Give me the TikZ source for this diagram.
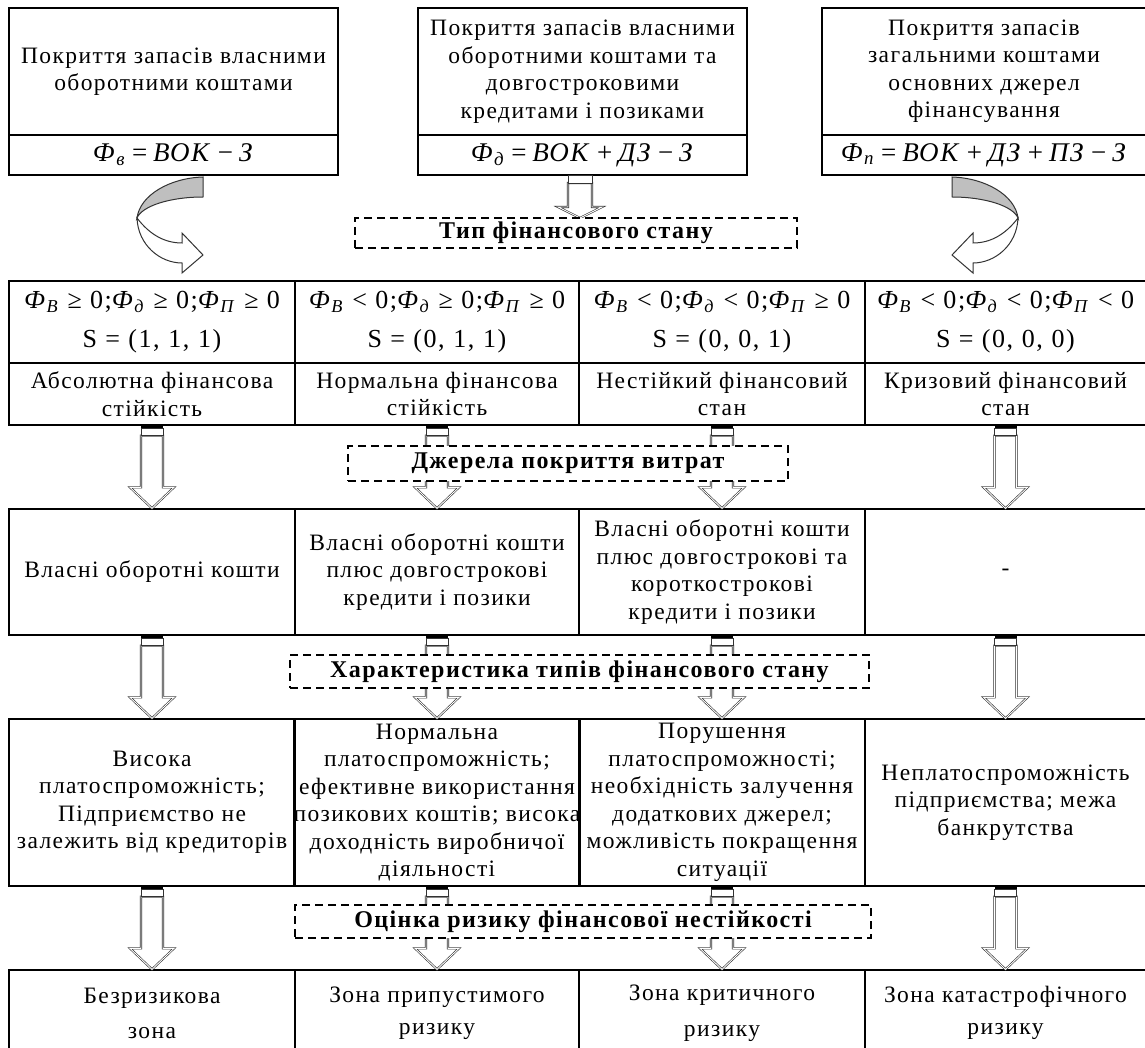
\documentclass[tikz,border=0pt]{standalone}
\usepackage{fontspec}
\setmainfont{Liberation Serif}[LetterSpace=6]
\usetikzlibrary{calc}
\newcommand\Fi[1]{\textit{Ф}\textsubscript{\textit{#1}}}
\newcommand\op[1]{\hspace{0.22em}#1\hspace{0.22em}}
\newcommand\rop[1]{\hspace{0.32em}#1\hspace{0.32em}}
\newcommand\cellnode[7][]{% [opts] name x1 y1 x2 y2 text
  \node[cell,#1,minimum width={(#5-#3)*1pt},minimum height={(#6-#4)*1pt}] (#2) at ({(#3+#5)/2},{(#4+#6)/2}) {#7};}
\newcommand\blkarrow[3][21]{%
  \draw[blkarr] let \p1=(#2), \p2=(#3) in
   (\x1-11pt,\y1-10pt) -- (\x1-11pt,\y2+#1pt) -- (\x1-22pt,\y2+#1pt) -- (\x1,\y2)
   -- (\x1+22pt,\y2+#1pt) -- (\x1+11pt,\y2+#1pt) -- (\x1+11pt,\y1-10pt) -- cycle;
  \fill let \p1=(#2) in (\x1-11pt,\y1) rectangle (\x1+11pt,\y1-3pt);
  \draw[capline] let \p1=(#2) in (\x1-11pt,\y1-3pt) rectangle (\x1+11pt,\y1-10pt);}
\begin{document}
\begin{tikzpicture}[x=1pt,y=-1pt,
  cell/.style={draw=black,line width=1.3pt,inner sep=0pt,align=center,
    font=\fontsize{23.5}{27.5}\selectfont},
  fcell/.style={font=\fontsize{27}{30}\selectfont},
  gcell/.style={font=\fontsize{26}{39}\selectfont},
  lbl/.style={draw=black,line width=1.1pt,dash pattern=on 8pt off 5pt,fill=white,
    inner sep=0pt,font=\fontsize{24}{26}\selectfont\bfseries},
  blkarr/.style={draw=black!80,fill=white,line width=0.6pt,double=white,double distance=0.9pt},
  capline/.style={draw=black!80,line width=0.9pt,fill=white},
  ribbon/.style={draw=black!80,line width=1pt}]
\useasboundingbox (0,0) rectangle (1145,1048);
\fill[white] (0,0) rectangle (1145,1048);
\clip (0,0) rectangle (1145,1048);

% top boxes
\cellnode{b1t}{9}{8}{338}{135}{Покриття запасів власними\\оборотними коштами}
\cellnode[fcell]{b1f}{9}{135}{338}{175}{\Fi{в}\op{=}\textit{ВОК}\op{−}\textit{З}}
\cellnode{b2t}{418}{8}{747}{135}{Покриття запасів власними\\оборотними коштами та\\довгостроковими\\кредитами і позиками}
\cellnode[fcell]{b2f}{418}{135}{747}{175}{\Fi{д}\op{=}\textit{ВОК}\op{+}\textit{ДЗ}\op{−}\textit{З}}
\cellnode{b3t}{822}{8}{1146}{135}{Покриття запасів\\загальними коштами\\основних джерел\\фінансування}
\cellnode[fcell]{b3f}{822}{135}{1146}{175}{\Fi{п}\op{=}\textit{ВОК}\op{+}\textit{ДЗ}\op{+}\textit{ПЗ}\op{−}\textit{З}}

% row 2
\cellnode[gcell]{r2a1}{9}{281}{295}{363}{\Fi{В}\rop{≥}0;\Fi{д}\rop{≥}0;\Fi{П}\rop{≥}0\\S\rop{=}(1,\,\,1,\,\,1)}
\cellnode[gcell]{r2a2}{295}{281}{579}{363}{\Fi{В}\rop{<}0;\Fi{д}\rop{≥}0;\Fi{П}\rop{≥}0\\S\rop{=}(0,\,\,1,\,\,1)}
\cellnode[gcell]{r2a3}{579}{281}{865}{363}{\Fi{В}\rop{<}0;\Fi{д}\rop{<}0;\Fi{П}\rop{≥}0\\S\rop{=}(0,\,\,0,\,\,1)}
\cellnode[gcell]{r2a4}{865}{281}{1146}{363}{\Fi{В}\rop{<}0;\Fi{д}\rop{<}0;\Fi{П}\rop{<}0\\S\rop{=}(0,\,\,0,\,\,0)}
\cellnode{r2b1}{9}{363}{295}{425}{Абсолютна фінансова\\стійкість}
\cellnode{r2b2}{295}{363}{579}{425}{Нормальна фінансова\\стійкість}
\cellnode{r2b3}{579}{363}{865}{425}{Нестійкий фінансовий\\стан}
\cellnode{r2b4}{865}{363}{1146}{425}{Кризовий фінансовий\\стан}

% row 3
\cellnode{r31}{9}{509}{295}{635}{Власні оборотні кошти}
\cellnode{r32}{295}{509}{579}{635}{Власні оборотні кошти\\плюс довгострокові\\кредити і позики}
\cellnode{r33}{579}{509}{865}{635}{Власні оборотні кошти\\плюс довгострокові та\\короткострокові\\кредити і позики}
\cellnode{r34}{865}{509}{1146}{635}{-}

% row 4
\cellnode{r41}{9}{719}{295}{886}{Висока\\платоспроможність;\\Підприємство не\\залежить від кредиторів}
\cellnode{r42}{295}{719}{579}{886}{Нормальна\\платоспроможність;\\ефективне використання\\позикових коштів; висока\\доходність виробничої\\діяльності}
\cellnode{r43}{579}{719}{865}{886}{Порушення\\платоспроможності;\\необхідність залучення\\додаткових джерел;\\можливість покращення\\ситуації}
\cellnode{r44}{865}{719}{1146}{886}{Неплатоспроможність\\підприємства; межа\\банкрутства}

% row 5
\cellnode[font=\fontsize{23.5}{35}\selectfont]{r51}{9}{970}{295}{1056}{Безризикова\\зона}
\cellnode[font=\fontsize{23.5}{32}\selectfont]{r52}{295}{970}{579}{1056}{Зона припустимого\\ризику}
\cellnode[font=\fontsize{23.5}{36}\selectfont]{r53}{579}{970}{865}{1056}{Зона критичного\\ризику}
\cellnode[font=\fontsize{23.5}{32}\selectfont]{r54}{865}{970}{1146}{1056}{Зона катастрофічного\\ризику}

% block arrows
\coordinate (d1top) at (580,218);
\draw[blkarr] (568,183) -- (568,207) -- (558,207) -- (d1top) -- (602,207) -- (592,207) -- (592,183) -- cycle;
\draw[capline] (568,175) rectangle (592,183);
\foreach \i in {1,2,3,4}{
  \blkarrow{r2b\i.south}{r3\i.north}
  \blkarrow{r3\i.south}{r4\i.north}
  \blkarrow{r4\i.south}{r5\i.north}
}

% curved arrows
\filldraw[ribbon,fill=black!25] (203,177) .. controls (170,178) and (140,195) .. (137,218)
  .. controls (142,206) and (170,197) .. (203,197) -- cycle;
\filldraw[ribbon,fill=white] (137,218) .. controls (150,235) and (165,243) .. (182,243)
  -- (182,233) -- (203,255) -- (182,273) -- (182,263)
  .. controls (160,263) and (138,245) .. (137,218) -- cycle;
\filldraw[ribbon,fill=black!25] (952,177) .. controls (985,178) and (1015,195) .. (1018,218)
  .. controls (1013,206) and (985,197) .. (952,197) -- cycle;
\filldraw[ribbon,fill=white] (1018,218) .. controls (1005,235) and (990,243) .. (973,243)
  -- (973,233) -- (952,255) -- (973,273) -- (973,263)
  .. controls (995,263) and (1017,245) .. (1018,218) -- cycle;

% dashed label boxes
\node[lbl,minimum width=442pt,minimum height=30pt] (d1) at (576,233) {Тип фінансового стану};
\node[lbl,minimum width=440pt,minimum height=35pt] (d2) at (568,463.5) {Джерела покриття витрат};
\node[lbl,minimum width=579pt,minimum height=33pt] (d3) at (579.5,671.5) {Характеристика типів фінансового стану};
\node[lbl,minimum width=576pt,minimum height=33pt] (d4) at (583,921.5) {Оцінка ризику фінансової нестійкості};
\end{tikzpicture}
\end{document}
